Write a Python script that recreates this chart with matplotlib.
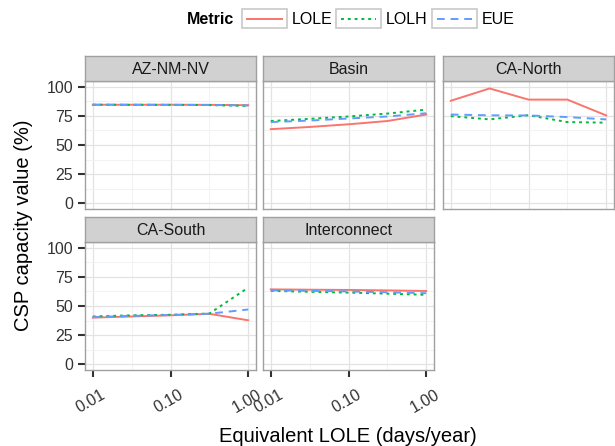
import numpy as np
import matplotlib
matplotlib.use("Agg")
import matplotlib.pyplot as plt
from matplotlib.lines import Line2D
from matplotlib.patches import Rectangle
from matplotlib.ticker import FixedLocator, NullFormatter
from matplotlib.transforms import ScaledTranslation

plt.rcParams['font.family'] = ['Liberation Sans', 'DejaVu Sans']

# equivalent LOLE (days/year)
lole_x = [0.01, 0.0316, 0.1, 0.316, 1.0]

regions = ["AZ-NM-NV", "Basin", "CA-North", "CA-South", "Interconnect"]
metrics = ["LOLE", "LOLH", "EUE"]

# CSP capacity value (%) per region, one list per metric
az_lole = [84.6, 84.6, 84.6, 84.5, 84.2]
az_lolh = [84.6, 84.5, 84.5, 84.3, 83.6]
az_eue = [84.6, 84.6, 84.5, 84.4, 84.0]

basin_lole = [63.6, 65.5, 67.8, 70.6, 76.2]
basin_lolh = [70.6, 72.5, 74.5, 77.0, 80.4]
basin_eue = [69.7, 71.0, 72.8, 74.5, 77.3]

canorth_lole = [88.0, 98.6, 89.0, 89.0, 75.4]
canorth_lolh = [74.8, 72.0, 75.6, 69.7, 69.2]
canorth_eue = [76.2, 75.5, 75.4, 74.0, 72.0]

casouth_lole = [40.0, 41.0, 42.0, 43.3, 37.7]
casouth_lolh = [41.0, 42.0, 42.5, 43.5, 65.8]
casouth_eue = [40.5, 41.5, 42.3, 43.4, 47.0]

inter_lole = [64.3, 64.0, 63.8, 63.4, 62.9]
inter_lolh = [63.0, 62.2, 61.5, 60.6, 59.6]
inter_eue = [63.5, 63.0, 62.5, 61.8, 61.0]

values = {
    "AZ-NM-NV": [az_lole, az_lolh, az_eue],
    "Basin": [basin_lole, basin_lolh, basin_eue],
    "CA-North": [canorth_lole, canorth_lolh, canorth_eue],
    "CA-South": [casouth_lole, casouth_lolh, casouth_eue],
    "Interconnect": [inter_lole, inter_lolh, inter_eue],
}

colors = {"LOLE": "#F8766D", "LOLH": "#00BA38", "EUE": "#619CFF"}
styles = {"LOLE": "-", "LOLH": (0, (1.5, 2.0)), "EUE": (0, (4, 3))}

W, H = 615, 446
fig = plt.figure(figsize=(W / 100, H / 100), dpi=100)

col_left = [85, 263, 443]
pw = 171
row_top = [81, 242]
ph = 128
strip_h = 25


def fx(px):
    return px / W


def fy(py):
    return 1 - py / H


for i, reg in enumerate(regions):
    r, c = divmod(i, 3)
    left, top = col_left[c], row_top[r]
    ax = fig.add_axes([fx(left), fy(top + ph), pw / W, ph / H])
    ax.set_facecolor("white")
    for m, ys in zip(metrics, values[reg]):
        ax.plot(lole_x, ys, color=colors[m], linestyle=styles[m], lw=1.4)
    ax.set_xscale("log")
    ax.set_xlim(10 ** -2.1, 10 ** 0.1)
    ax.set_ylim(-5, 105)
    ax.xaxis.set_major_locator(FixedLocator([0.01, 0.1, 1.0]))
    ax.xaxis.set_minor_locator(FixedLocator([0.0316, 0.316]))
    ax.xaxis.set_minor_formatter(NullFormatter())
    ax.set_yticks([0, 25, 50, 75, 100])
    ax.set_yticks([12.5, 37.5, 62.5, 87.5], minor=True)
    ax.grid(True, which="major", color="#e3e3e3", lw=0.9)
    ax.grid(True, which="minor", color="#f2f2f2", lw=0.7)
    ax.set_axisbelow(True)
    for s in ax.spines.values():
        s.set_color("#a0a0a0")
        s.set_linewidth(1.0)
    ax.tick_params(which="minor", length=0)
    ax.tick_params(which="major", color="#333333", width=1.5, length=5,
                   labelsize=11.5, labelcolor="#333333")
    if c == 0:
        ax.set_yticklabels(["0", "25", "50", "75", "100"])
    else:
        ax.tick_params(axis="y", length=0, labelleft=False)
    if i >= 2 and i != 2:
        ax.set_xticklabels(["0.01", "0.10", "1.00"], rotation=30,
                           ha="right", va="top", rotation_mode="anchor")
        ax.tick_params(axis="x", pad=7)
        for lab in ax.get_xticklabels():
            lab.set_transform(lab.get_transform() +
                              ScaledTranslation(8 / 100, 0, fig.dpi_scale_trans))
    else:
        ax.tick_params(axis="x", length=0, labelbottom=False)

    sax = fig.add_axes([fx(left), fy(top), pw / W, strip_h / H])
    sax.set_facecolor("#d1d1d1")
    sax.set_xticks([])
    sax.set_yticks([])
    for s in sax.spines.values():
        s.set_color("#a0a0a0")
        s.set_linewidth(1.0)
    sax.text(0.5, 0.47, reg, ha="center", va="center", fontsize=11.5,
             color="#1a1a1a", transform=sax.transAxes)

fig.text(fx(24), fy(225), "CSP capacity value (%)", rotation=90,
         ha="center", va="center", fontsize=14.5)
fig.text(fx(348), fy(436), "Equivalent LOLE (days/year)",
         ha="center", va="center", fontsize=14.5)

# legend
fig.text(fx(187), fy(19), "Metric", ha="left", va="center",
         fontsize=11.5, fontweight="bold")
key_left = [242, 336, 432]
for kl, m in zip(key_left, metrics):
    fig.patches.append(Rectangle((fx(kl), fy(28)), 45 / W, 19 / H,
                                 transform=fig.transFigure, facecolor="white",
                                 edgecolor="#c8c8c8", lw=1.2))
    fig.lines.append(Line2D([fx(kl + 5), fx(kl + 40)], [fy(18.5), fy(18.5)],
                            transform=fig.transFigure, color=colors[m],
                            linestyle=styles[m], lw=1.4))
    fig.text(fx(kl + 50), fy(19), m, ha="left", va="center", fontsize=11.5)

fig.savefig("out.png", dpi=100)
